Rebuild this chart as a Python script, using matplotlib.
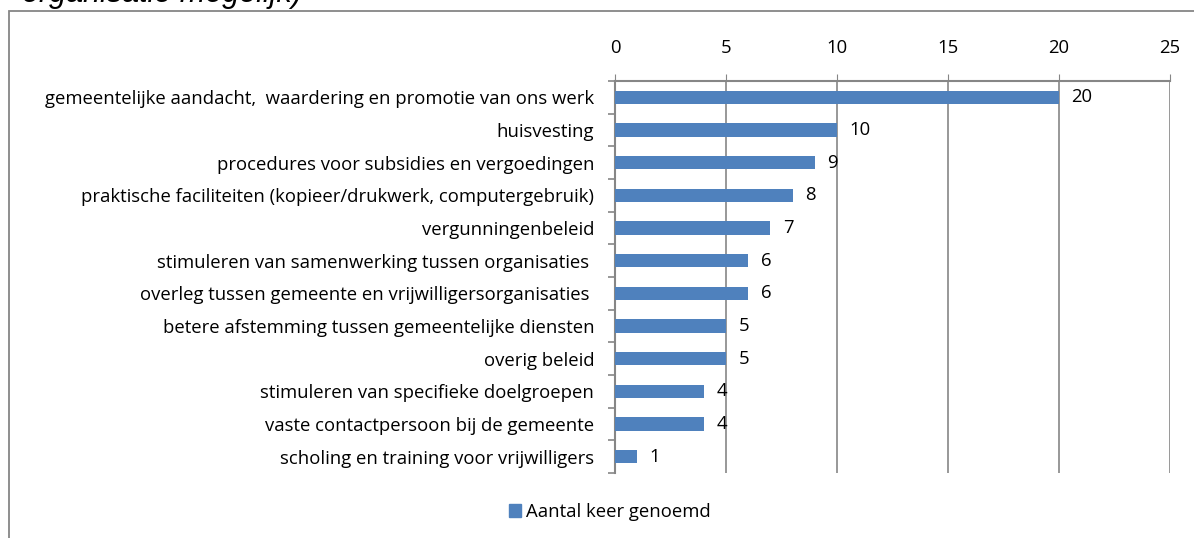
import matplotlib
matplotlib.use("Agg")
import matplotlib.pyplot as plt
from matplotlib.patches import Rectangle, Patch
import numpy as np

categories = [
    "gemeentelijke aandacht,  waardering en promotie van ons werk",
    "huisvesting",
    "procedures voor subsidies en vergoedingen",
    "praktische faciliteiten (kopieer/drukwerk, computergebruik)",
    "vergunningenbeleid",
    "stimuleren van samenwerking tussen organisaties ",
    "overleg tussen gemeente en vrijwilligersorganisaties ",
    "betere afstemming tussen gemeentelijke diensten",
    "overig beleid",
    "stimuleren van specifieke doelgroepen",
    "vaste contactpersoon bij de gemeente",
    "scholing en training voor vrijwilligers",
]
values = [20, 10, 9, 8, 7, 6, 6, 5, 5, 4, 4, 1]
series_name = "Aantal keer genoemd"
xticks = [0, 5, 10, 15, 20, 25]

plt.rcParams['font.family'] = ['Open Sans', 'DejaVu Sans']
BAR = '#4F81BD'
GRID = '#868686'
FS = 13.3

fig = plt.figure(figsize=(11.94, 5.38), dpi=100)
ax = fig.add_axes([615/1194, 1-473/538, (1170-615)/1194, (473-81)/538])

y = np.arange(len(categories))
ax.barh(y, values, height=0.4, color=BAR, zorder=3)
ax.set_ylim(len(categories)-0.5, -0.5)
ax.set_xlim(0, 25)
ax.set_xticks(xticks)
ax.xaxis.tick_top()
ax.tick_params(axis='x', which='major', length=5, color=GRID, pad=12, labelsize=FS)
ax.grid(axis='x', color=GRID, linewidth=1.2, zorder=0)

ax.set_yticks(y)
ax.set_yticklabels(categories, fontsize=FS)
ax.tick_params(axis='y', which='major', length=0, pad=15)
ax.set_yticks(np.arange(-0.5, len(categories)), minor=True)
ax.tick_params(axis='y', which='minor', length=5, color=GRID, width=1.2)

for s in ['right', 'bottom']:
    ax.spines[s].set_visible(False)
for s in ['top', 'left']:
    ax.spines[s].set_color(GRID)
    ax.spines[s].set_linewidth(1.5)

for yi, v in zip(y, values):
    ax.annotate(str(v), (v, yi), xytext=(9, 0), textcoords='offset points',
                va='center', ha='left', fontsize=FS)

# chart border
fig.patches.append(Rectangle((9/1194, -0.1), 2, 1.1 - 11/538, transform=fig.transFigure,
                             fill=False, edgecolor=GRID, linewidth=1.3))

# cut-off title
fig.text(22/1194, 1 - 2/538, "organisatie mogelijk)", fontsize=22, style='italic',
         family=['Liberation Sans', 'DejaVu Sans'], ha='left', va='baseline')

fig.legend(handles=[Patch(color=BAR, label=series_name)], loc='center',
           bbox_to_anchor=(610/1194, 1 - 512/538), frameon=False, fontsize=FS,
           handlelength=0.65, handleheight=0.65, handletextpad=0.25)

fig.savefig("out.png", dpi=100)
